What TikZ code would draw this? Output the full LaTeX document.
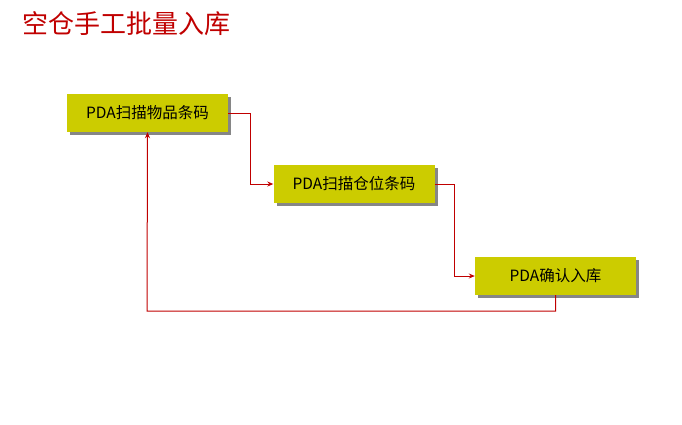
\documentclass[tikz,border=0pt]{standalone}
\usepackage{fontspec}
\setmainfont{Liberation Sans}
\newfontfamily\cjk{Noto Sans CJK SC}
\usetikzlibrary{arrows.meta,shadows}
\definecolor{boxfill}{RGB}{204,204,0}
\definecolor{linered}{RGB}{192,0,0}
\definecolor{titlered}{RGB}{192,0,0}
\begin{document}
\begin{tikzpicture}[x=1pt,y=-1pt,
  stepbox/.style={draw=none,fill=boxfill,minimum width=161pt,minimum height=38pt,inner sep=0pt,
    font=\cjk\fontsize{15.5}{18}\selectfont,
    drop shadow={shadow xshift=3pt,shadow yshift=-3pt,fill=gray!95,opacity=1}},
  conn/.style={draw=linered,line width=1pt,-{Stealth[length=6pt,width=5pt]}}]
\useasboundingbox (0,0) rectangle (682,424);
\node[anchor=west,text=titlered,font=\cjk\fontsize{26}{30}\selectfont] (title) at (19,24) {空仓手工批量入库};
\node[stepbox] (b1) at (147.5,113) {PDA扫描物品条码};
\node[stepbox] (b2) at (354,184) {PDA扫描仓位条码};
\node[stepbox] (b3) at (555.5,276) {PDA确认入库};
\draw[conn] (b1.east) -- ++(22,0) |- (b2.west);
\draw[conn] (b2.east) -- ++(20,0) |- (b3.west);
\coordinate (c1) at (555.5,311);
\coordinate (c2) at (147,311);
\draw[conn] (b3.south) -- (c1) -- (c2) -- (b1.south);
\end{tikzpicture}
\end{document}
